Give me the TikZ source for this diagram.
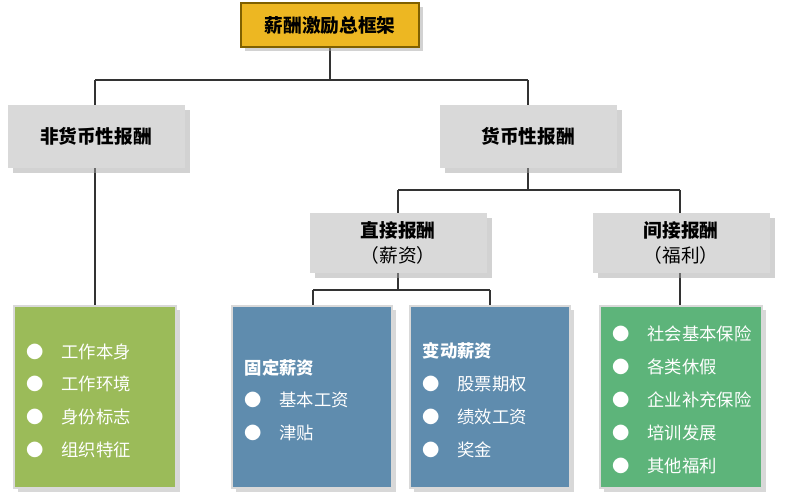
\documentclass[tikz,border=0pt]{standalone}
\usepackage{fontspec}
\setmainfont{Noto Sans CJK SC}
\usetikzlibrary{shadows}
\definecolor{gold}{HTML}{EDB722}
\definecolor{goldb}{HTML}{7F6000}
\definecolor{gbox}{HTML}{D9D9D9}
\definecolor{lgreen}{HTML}{9BBB59}
\definecolor{sblue}{HTML}{5F8CAE}
\definecolor{rgreen}{HTML}{5DB47A}
\begin{document}
\begin{tikzpicture}[x=0.75pt,y=-0.75pt,
  hd/.style={fill=gbox,draw=none,drop shadow={shadow xshift=4pt,shadow yshift=-4pt,fill=black!35},font=\bfseries\fontsize{14}{17}\selectfont,align=center},
  ln/.style={draw=black!80,line width=0.8pt},
  bx/.style={draw=white!85!black,line width=1pt,drop shadow={shadow xshift=3pt,shadow yshift=-3pt,fill=black!30}},
  it/.style={text=white,font=\fontsize{13}{16}\selectfont,anchor=west}]
\useasboundingbox (0,0) rectangle (800,494);
% connectors
\draw[ln] (330,48) -- (330,80) (95,80) -- (528,80) (95,80) -- (95,105) (528,80) -- (528,105);
\draw[ln] (528,168) -- (528,190) (398,190) -- (680,190) (398,190) -- (398,213) (680,190) -- (680,213);
\draw[ln] (398,273) -- (398,290) (313,290) -- (490,290) (313,290) -- (313,305) (490,290) -- (490,305);
\draw[ln] (95,168) -- (95,305) (680,273) -- (680,305);
% boxes
\filldraw[fill=gold,draw=goldb,line width=1.5pt,drop shadow={shadow xshift=3pt,shadow yshift=-3pt,fill=black!35}] (241,3) rectangle (419,47);
\node[font=\bfseries\fontsize{14}{17}\selectfont] (top) at (330,25) {薪酬激励总框架};
\path[hd] (8,105) rectangle (185,168);
\node[font=\bfseries\fontsize{14}{17}\selectfont] (nm) at (96,136) {非货币性报酬};
\path[hd] (440,105) rectangle (617,168);
\node[font=\bfseries\fontsize{14}{17}\selectfont] (m) at (528,136) {货币性报酬};
\path[hd] (310,213) rectangle (487,273);
\node[align=center,font=\fontsize{14}{19}\selectfont] (d) at (398,243) {\textbf{直接报酬}\\（薪资）};
\path[hd] (593,213) rectangle (770,273);
\node[align=center,font=\fontsize{14}{19}\selectfont] (i) at (681,243) {\textbf{间接报酬}\\（福利）};
\filldraw[bx,fill=lgreen] (14,306) rectangle (176,488);
\filldraw[bx,fill=sblue] (232,306) rectangle (392,488);
\filldraw[bx,fill=sblue] (410,306) rectangle (570,488);
\filldraw[bx,fill=rgreen] (600,306) rectangle (762,488);
% items
\foreach \t/\y in {工作本身/352,工作环境/384,身份标志/417,组织特征/450}
  \node[it] at (22,\y) {●\quad \t};
\node[it,font=\bfseries\fontsize{13}{16}\selectfont] (g) at (240,368) {固定薪资};
\foreach \t/\y in {基本工资/400,津贴/433}
  \node[it] at (240,\y) {●\quad \t};
\node[it,font=\bfseries\fontsize{13}{16}\selectfont] (v) at (418,351) {变动薪资};
\foreach \t/\y in {股票期权/384,绩效工资/417,奖金/450}
  \node[it] at (418,\y) {●\quad \t};
\foreach \t/\y in {社会基本保险/334,各类休假/367,企业补充保险/400,培训发展/433,其他福利/466}
  \node[it] at (608,\y) {●\quad \t};
\end{tikzpicture}
\end{document}
